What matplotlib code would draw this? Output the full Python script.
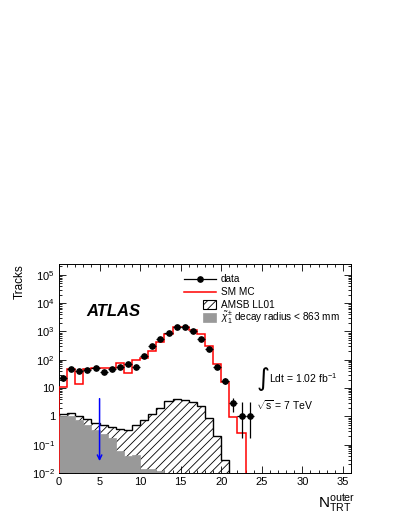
import matplotlib
matplotlib.use("Agg")
import matplotlib.pyplot as plt
import numpy as np
from matplotlib.lines import Line2D
from matplotlib.patches import Rectangle
from matplotlib.ticker import MultipleLocator, LogLocator, NullFormatter

plt.rcParams['font.family'] = ['Liberation Sans', 'DejaVu Sans']
plt.rcParams['mathtext.fontset'] = 'custom'
plt.rcParams['mathtext.rm'] = 'Liberation Sans'
plt.rcParams['mathtext.it'] = 'Liberation Sans:italic'
plt.rcParams['mathtext.bf'] = 'Liberation Sans:bold'
plt.rcParams['hatch.linewidth'] = 0.6

#-----------------------------------------
# values (1 unit wide bins starting at 0)

bin_edges = np.arange(0, 37)

data_counts = [23, 46, 40, 43, 52, 38, 46, 57, 69, 57, 135, 305, 520, 900,
               1380, 1380, 1040, 535, 235, 57, 18, 3, 1, 1]
# asymmetric errors for the low-count tail bins (21, 22, 23)
tail_err_lo = [1.6, 0.83, 0.83]
tail_err_hi = [1.5, 2.3, 2.3]

sm_mc = [11, 48, 14, 46, 50, 50, 52, 75, 33, 100, 120, 210, 420, 830,
         1450, 1450, 1100, 780, 300, 70, 16, 0.95, 0.25]

amsb_ll01 = [1.2, 1.3, 1.05, 0.8, 0.6, 0.5, 0.43, 0.36, 0.32, 0.48, 0.76,
             1.25, 1.9, 3.5, 4.2, 3.9, 3.3, 2.3, 0.9, 0.2, 0.03]

amsb_short = [1.06, 1.0, 0.77, 0.5, 0.34, 0.23, 0.17, 0.06, 0.04, 0.045,
              0.014, 0.014, 0.012]

x_ticks = [0, 5, 10, 15, 20, 25, 30, 35]
y_ticks = [1e-2, 1e-1, 1, 10, 1e2, 1e3, 1e4, 1e5]
y_tick_labels = ['10$^{-2}$', '10$^{-1}$', '1', '10', '10$^{2}$', '10$^{3}$',
                 '10$^{4}$', '10$^{5}$']

cut_value = 5

#-----------------------------------------

fig = plt.figure(figsize=(3.99, 5.16), dpi=100)
ax = fig.add_axes([0.1479, 0.0833, 0.7318, 0.405])

floor = 1e-4

# AMSB hatched histogram
ax.stairs(amsb_ll01, bin_edges[:len(amsb_ll01) + 1], baseline=floor, fill=True,
          facecolor='white', edgecolor='black', hatch='////', linewidth=0, zorder=1)
ax.stairs(amsb_ll01, bin_edges[:len(amsb_ll01) + 1], baseline=floor, fill=False,
          color='black', linewidth=1.0, zorder=2)

# short decay radius part (grey)
ax.stairs(amsb_short, bin_edges[:len(amsb_short) + 1], baseline=floor, fill=True,
          facecolor='#999999', edgecolor='#999999', linewidth=0.5, zorder=3)

# SM MC
ax.stairs(sm_mc, bin_edges[:len(sm_mc) + 1], baseline=floor, fill=False,
          color='red', linewidth=1.1, zorder=4)

# data
counts = np.array(data_counts, dtype=float)
centers = 0.5 * (bin_edges[:len(counts)] + bin_edges[1:len(counts) + 1])
err_lo = np.sqrt(counts)
err_hi = np.sqrt(counts)
err_lo[-3:] = tail_err_lo
err_hi[-3:] = tail_err_hi
ax.errorbar(centers, counts, xerr=0.5, yerr=[err_lo, err_hi], fmt='o', color='black',
            markersize=3.8, elinewidth=0.9, capsize=0, zorder=5)

# cut arrow
ax.annotate('', xy=(cut_value, 0.021), xytext=(cut_value, 5.3),
            arrowprops=dict(arrowstyle='->', color='blue', lw=1.1,
                            mutation_scale=8), zorder=6)

ax.set_yscale('log')
ax.set_xlim(0, 36)
ax.set_ylim(1e-2, 2.4e5)

ax.set_xticks(x_ticks)
ax.xaxis.set_minor_locator(MultipleLocator(1))
ax.set_yticks(y_ticks)
ax.set_yticklabels(y_tick_labels)
ax.yaxis.set_minor_locator(LogLocator(base=10, subs=np.arange(2, 10)))
ax.yaxis.set_minor_formatter(NullFormatter())

ax.tick_params(which='both', direction='in', top=True, right=True, labelsize=8,
               width=0.6)
ax.tick_params(which='major', length=5, pad=3)
ax.tick_params(which='minor', length=2.5)
for sp in ax.spines.values():
    sp.set_linewidth(0.7)

# axis titles
ax.text(-0.135, 1.0, 'Tracks', transform=ax.transAxes, rotation=90,
        ha='center', va='top', fontsize=8.5)
ax.text(1.015, -0.145, r'N$^{\mathrm{outer}}_{\mathrm{TRT}}$', transform=ax.transAxes,
        ha='right', va='center', fontsize=11)

# ATLAS label
ax.text(0.092, 0.751, 'ATLAS', transform=ax.transAxes, fontsize=12,
        fontweight='bold', fontstyle='italic', ha='left', va='baseline')

# luminosity and energy
ax.text(0.678, 0.452, '\u222b', transform=ax.transAxes, family='DejaVu Sans',
        fontsize=18, ha='left', va='center')
ax.text(0.719, 0.455, 'Ldt = 1.02 fb$^{-1}$', transform=ax.transAxes,
        fontsize=7.5, ha='left', va='center')
ax.text(0.676, 0.325, r'$\sqrt{\mathrm{s}}$ = 7 TeV', transform=ax.transAxes,
        fontsize=7.5, ha='left', va='center')

# legend, drawn by hand to follow the ROOT layout
def ax_x(px):
    return (px - 59) / 292.0

def ax_y(py):
    return (473 - py) / 209.0

text_x = ax_x(221)
rows = [ax_y(279.3), ax_y(292.3), ax_y(304.5), ax_y(317.5)]
labels = ['data', 'SM MC', 'AMSB LL01',
          r'$\tilde{\chi}^{\pm}_{1}$ decay radius < 863 mm']

ax.add_line(Line2D([ax_x(184), ax_x(216)], [rows[0]] * 2, color='black', lw=0.9,
                   transform=ax.transAxes, zorder=7))
ax.add_line(Line2D([ax_x(200)], [rows[0]], marker='o', markersize=3.8, color='black',
                   transform=ax.transAxes, zorder=7))
ax.add_line(Line2D([ax_x(184), ax_x(216)], [rows[1]] * 2, color='red', lw=1.1,
                   transform=ax.transAxes, zorder=7))
bw = ax_x(216) - ax_x(203)
bh = 8.5 / 209.0
ax.add_patch(Rectangle((ax_x(203), rows[2] - bh / 2), bw, bh, transform=ax.transAxes,
                       facecolor='white', edgecolor='black', hatch='////', lw=0.8,
                       zorder=7))
ax.add_patch(Rectangle((ax_x(203), rows[3] - bh / 2), bw, bh, transform=ax.transAxes,
                       facecolor='#999999', edgecolor='#999999', lw=0.5, zorder=7))
for yy, lab in zip(rows, labels):
    ax.text(text_x, yy, lab, transform=ax.transAxes, fontsize=7.2, ha='left',
            va='center', zorder=8)

fig.savefig('out.png', dpi=100)
